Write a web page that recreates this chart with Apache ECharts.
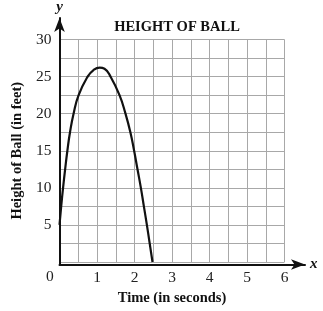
<!DOCTYPE html>
<html>
<head>
<meta charset="utf-8">
<script src="https://cdn.jsdelivr.net/npm/echarts@6/dist/echarts.min.js"></script>
<style>html,body{margin:0;padding:0;background:#fff}#c{width:323px;height:311px}</style>
</head>
<body>
<div id="c"></div>
<script>
var timeValues = [0, 0.045, 0.095, 0.15, 0.21, 0.28, 0.375, 0.51, 0.75, 0.9, 1.07, 1.2, 1.36, 1.60, 1.76, 1.89, 1.99, 2.08, 2.17, 2.25, 2.33, 2.405, 2.48];
var heightValues = [5, 7.5, 10, 12.5, 15, 17.5, 20, 22.5, 25, 25.85, 26.2, 26.05, 25, 22.5, 20, 17.5, 15, 12.5, 10, 7.5, 5, 2.5, 0];
var xTickLabels = ['1', '2', '3', '4', '5', '6'];
var yTickLabels = ['5', '10', '15', '20', '25', '30'];

var serif = '"Liberation Serif", "DejaVu Serif", serif';
var points = timeValues.map(function (t, i) { return [t, heightValues[i]]; });

var chart = echarts.init(document.getElementById('c'), null, { renderer: 'canvas' });
chart.setOption({
  animation: false,
  backgroundColor: '#fff',
  title: {
    text: 'HEIGHT OF BALL',
    left: 172, top: 15, textAlign: 'center',
    textStyle: { fontFamily: serif, fontWeight: 'bold', fontSize: 14.5, color: '#111' }
  },
  grid: [
    { left: 59.5, right: 38.5, top: 39.5, bottom: 46.5 },
    { left: 59.5, right: 18, top: 18, bottom: 46.5 }
  ],
  xAxis: [
    {
      type: 'value', gridIndex: 0, min: 0, max: 6, interval: 0.5,
      name: 'Time (in seconds)', nameLocation: 'middle', nameGap: 29,
      nameTextStyle: { fontFamily: serif, fontWeight: 'bold', fontSize: 14.5, color: '#111' },
      axisLine: { show: false }, axisTick: { show: false },
      axisLabel: {
        margin: 8, fontFamily: serif, fontSize: 15.5, color: '#222',
        formatter: function (v) { var s = String(v); return xTickLabels.indexOf(s) >= 0 ? s : ''; }
      },
      splitLine: { show: true, lineStyle: { color: '#a8a8a8', width: 1 } }
    },
    {
      type: 'value', gridIndex: 1, min: 0, max: 1,
      name: 'x', nameLocation: 'end', nameGap: 5,
      nameTextStyle: { fontFamily: serif, fontStyle: 'italic', fontWeight: 'bold', fontSize: 15, color: '#111' },
      axisLine: { show: true, symbol: ['none', 'arrow'], symbolSize: [8, 14], lineStyle: { color: '#111', width: 2 } },
      axisTick: { show: false }, axisLabel: { show: false }, splitLine: { show: false }
    }
  ],
  yAxis: [
    {
      type: 'value', gridIndex: 0, min: 0, max: 30, interval: 2.5,
      name: 'Height of Ball (in feet)', nameLocation: 'middle', nameGap: 35,
      nameTextStyle: { fontFamily: serif, fontWeight: 'bold', fontSize: 14.5, color: '#111' },
      axisLine: { show: false }, axisTick: { show: false },
      axisLabel: {
        margin: 8, fontFamily: serif, fontSize: 15.5, color: '#222',
        formatter: function (v) { var s = String(v); return yTickLabels.indexOf(s) >= 0 ? s : ''; }
      },
      splitLine: { show: true, lineStyle: { color: '#a8a8a8', width: 1 } }
    },
    {
      type: 'value', gridIndex: 1, min: 0, max: 1,
      name: 'y', nameLocation: 'end', nameGap: 3,
      nameTextStyle: { fontFamily: serif, fontStyle: 'italic', fontWeight: 'bold', fontSize: 15, color: '#111' },
      axisLine: { show: true, symbol: ['none', 'arrow'], symbolSize: [8, 14], lineStyle: { color: '#111', width: 2 } },
      axisTick: { show: false }, axisLabel: { show: false }, splitLine: { show: false }
    }
  ],
  graphic: [
    { type: 'text', left: 46, top: 269, style: { text: '0', fontFamily: serif, fontSize: 15.5, fill: '#222' } }
  ],
  series: [
    {
      type: 'line', xAxisIndex: 0, yAxisIndex: 0, data: points,
      smooth: 0.5, showSymbol: false, symbol: 'none',
      lineStyle: { color: '#111', width: 2.2 }, z: 5
    }
  ]
});
</script>
</body>
</html>
